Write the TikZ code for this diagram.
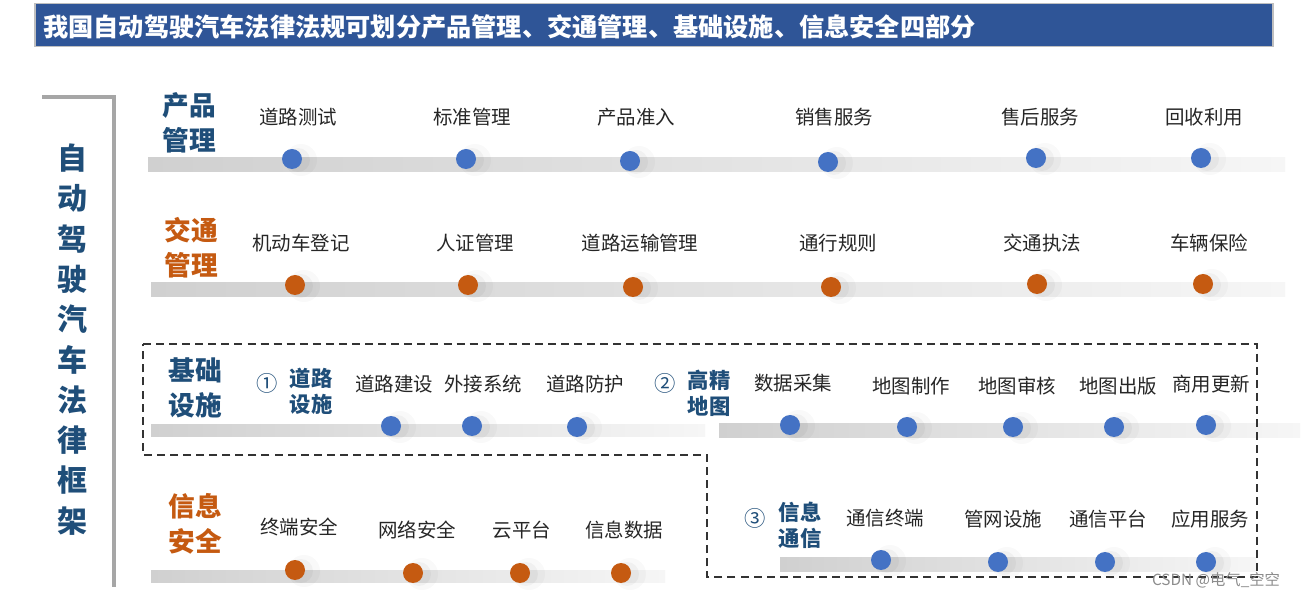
\documentclass[tikz,border=0pt]{standalone}
\usepackage{fontspec}
\setmainfont{Noto Sans CJK SC}
\definecolor{titleblue}{HTML}{2F5597}
\definecolor{darkblue}{HTML}{1F4E79}
\definecolor{orng}{HTML}{C55A11}
\definecolor{dotblue}{HTML}{4472C4}
\definecolor{bracketgray}{HTML}{A6A6A6}
\definecolor{barL}{RGB}{208,208,208}
\definecolor{barR}{RGB}{246,246,246}
\definecolor{itemtext}{HTML}{262626}
\tikzset{
  item/.style={font=\fontsize{14.6}{16}\selectfont, text=itemtext, inner sep=0pt},
  dotb/.style={circle, fill=dotblue, minimum size=15pt, inner sep=0pt},
  doto/.style={circle, fill=orng, minimum size=15pt, inner sep=0pt},
  barshade/.style={left color=barL, right color=barR, draw=none},
  cat/.style={font=\fontsize{20}{26}\selectfont\bfseries, align=center, inner sep=0pt},
  subcat/.style={font=\fontsize{16}{19.5}\selectfont\bfseries, align=center, inner sep=0pt, text=darkblue},
  circnum/.style={font=\fontsize{16}{18}\selectfont, inner sep=0pt, text=darkblue},
  dashbox/.style={draw=black!80, line width=1.1pt, dash pattern=on 6pt off 3.8pt},
}
\newcommand\itm[7]{%
  \fill[black,opacity=0.025] (#5+9,#6+1) circle[radius=12pt];
  \fill[black,opacity=0.035] (#5+6,#6+1) circle[radius=9pt];
  \node[item] (#1t) at (#2,#3) {#4};
  \node[#7] (#1d) at (#5,#6) {};
}
\begin{document}
\begin{tikzpicture}[x=0.75pt,y=-0.75pt]
\useasboundingbox (0,0) rectangle (1311,598);
\fill[white] (0,0) rectangle (1311,598);
% title
\node[draw=black!25, line width=1.2pt, fill=titleblue, minimum width=1238*0.75pt, minimum height=43*0.75pt, inner sep=0pt] (titlebox) at (654,25) {};
\node[anchor=west, text=white, font=\fontsize{18.9}{20}\selectfont\bfseries, inner sep=0pt] (title) at (43,27) {我国自动驾驶汽车法律法规可划分产品管理、交通管理、基础设施、信息安全四部分};
% left bracket
\draw[bracketgray, line width=3.4pt] (42,97) -- (114,97) -- (114,587);
\node[font=\fontsize{22.5}{30.2}\selectfont\bfseries, text=darkblue, align=center, inner sep=0pt] (vtitle) at (72,339.5) {自\\动\\驾\\驶\\汽\\车\\法\\律\\框\\架};
% bars
\shade[barshade] (148,158) rectangle (1285,172);
\shade[barshade] (151,283) rectangle (1285,297);
\shade[barshade] (151,425) rectangle (705,437);
\shade[barshade] (719,424) rectangle (1300,438);
\shade[barshade] (151,570) rectangle (665,582);
\shade[barshade] (780,558) rectangle (1256,571);
% dashed region
\draw[dashbox] (143,344) -- (1257,344) -- (1257,577) -- (707,577) -- (707,455) -- (143,455) -- cycle;
% row 1
\node[cat, text=darkblue] (c1) at (189.5,122.5) {产品\\管理};
\itm{a1}{298}{117}{道路测试}{292}{159}{dotb}
\itm{a2}{472}{117}{标准管理}{466}{159}{dotb}
\itm{a3}{636}{117}{产品准入}{630}{161}{dotb}
\itm{a4}{834}{117}{销售服务}{828}{162}{dotb}
\itm{a5}{1040}{117}{售后服务}{1036}{158}{dotb}
\itm{a6}{1204}{117}{回收利用}{1201}{158}{dotb}
% row 2
\node[cat, text=orng] (c2) at (191.5,247.5) {交通\\管理};
\itm{b1}{301}{243}{机动车登记}{295}{285}{doto}
\itm{b2}{475}{243}{人证管理}{468}{285}{doto}
\itm{b3}{640}{243}{道路运输管理}{633}{287}{doto}
\itm{b4}{838}{243}{通行规则}{831}{287}{doto}
\itm{b5}{1042}{243}{交通执法}{1037}{284}{doto}
\itm{b6}{1209}{243}{车辆保险}{1203}{284}{doto}
% row 3
\node[cat, text=darkblue] (c3) at (195,388) {基础\\设施};
\node[circnum] (n1) at (267,383) {①};
\node[subcat] (s1) at (311,391) {道路\\设施};
\itm{d1}{394}{384}{道路建设}{391}{426}{dotb}
\itm{d2}{483}{384}{外接系统}{472}{426}{dotb}
\itm{d3}{585}{384}{道路防护}{577}{427}{dotb}
\node[circnum] (n2) at (665,383) {②};
\node[subcat] (s2) at (709,393) {高精\\地图};
\itm{e1}{793}{383}{数据采集}{790}{425}{dotb}
\itm{e2}{911}{386}{地图制作}{907}{427}{dotb}
\itm{e3}{1017}{386}{地图审核}{1013}{427}{dotb}
\itm{e4}{1118}{386}{地图出版}{1114}{427}{dotb}
\itm{e5}{1211}{384}{商用更新}{1206}{425}{dotb}
% row 4
\node[cat, text=orng] (c4) at (195,524) {信息\\安全};
\itm{f1}{299}{527}{终端安全}{295}{570}{doto}
\itm{f2}{417}{530}{网络安全}{413}{573}{doto}
\itm{f3}{522}{530}{云平台}{520}{573}{doto}
\itm{f4}{624}{530}{信息数据}{621}{573}{doto}
\node[circnum] (n3) at (755,518) {③};
\node[subcat] (s3) at (800,525) {信息\\通信};
\itm{g1}{885}{518}{通信终端}{881}{560}{dotb}
\itm{g2}{1003}{519}{管网设施}{998}{562}{dotb}
\itm{g3}{1108}{519}{通信平台}{1105}{562}{dotb}
\itm{g4}{1210}{519}{应用服务}{1206}{562}{dotb}
% watermark text
\node[font=\fontsize{11.5}{12}\selectfont, text=black!45, inner sep=0pt] (csdn) at (1216,580) {CSDN @电气\_空空};
\end{tikzpicture}
\end{document}
